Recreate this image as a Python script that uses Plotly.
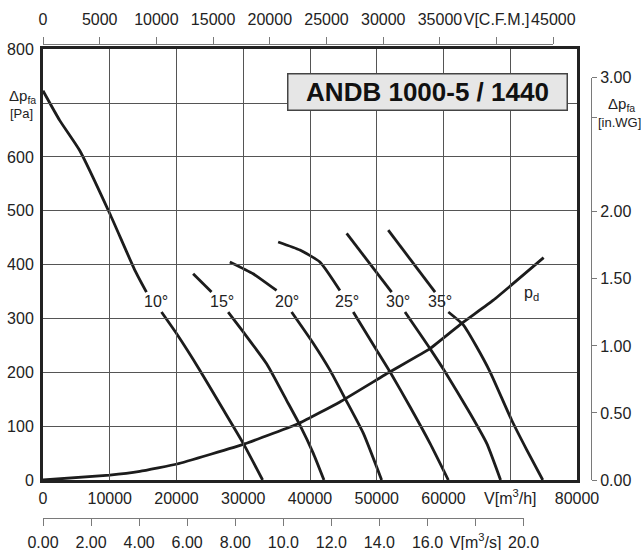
import plotly.graph_objects as go

# ---------------- data ----------------
CFM_TO_M3H = 1.699011      # 1 CFM in m3/h
PA_PER_INWG = 249.089      # 1 in.WG in Pa
M3S_TO_M3H = 3600.0

# flow V [m3/h] / pressure dp_fa [Pa]; None = gap where the blade-angle label sits
v_10 = [0, 2500, 5500, 10000, 13750, 15500, None, 17750, 20000, 23490, 26750, 30000, 32900]
p_10 = [723, 668, 612, 495, 390, 349, None, 312, 272, 204, 136, 68, 0]

v_15 = [22490, 25250, None, 27740, 30000, 33500, 36490, 38490, 40480, 42090]
p_15 = [383, 349, None, 312, 275, 216, 148, 102, 50, 0]

v_20 = [27990, 31480, 34990, None, 37240, 40480, 42990, 45230, 47980, 50730]
p_20 = [405, 383, 352, None, 312, 254, 204, 152, 87, 0]

v_25 = [35230, 38490, 41480, 44480, None, 46480, 49990, 51980, 54980, 57980, 60720]
p_25 = [442, 427, 405, 352, None, 312, 241, 201, 136, 68, 0]

v_30 = [45490, 52230, None, 54230, 57980, 60230, 63970, 66480, 68550]
p_30 = [458, 349, None, 312, 244, 201, 124, 68, 0]

v_35 = [51720, 58740, None, 60720, 62970, 64980, 66970, 70220, 72470, 74870]
p_35 = [464, 349, None, 312, 288, 247, 201, 111, 56, 0]

v_pd = [0, 10000, 14510, 20090, 30240, 38490, 44480, 51980, 57980, 62730, 67470, 75000]
p_pd = [0, 9, 16, 29.7, 67, 106, 145, 201, 244, 291, 334, 413]

curve_names = ["10°", "15°", "20°", "25°", "30°", "35°"]
curves_v = [v_10, v_15, v_20, v_25, v_30, v_35]
curves_p = [p_10, p_15, p_20, p_25, p_30, p_35]

# tick values / labels
x_ticks = [0, 10000, 20000, 30000, 40000, 50000, 60000, 70000, 80000]
x_ticktext = ["0", "10000", "20000", "30000", "40000", "50000", "60000", "V[m<sup>3</sup>/h]", "80000"]
y_ticks = [0, 100, 200, 300, 400, 500, 600, 700, 800]
y_ticktext = ["0", "100", "200", "300", "400", "500", "600", "", "800"]
cfm_ticks = [0, 5000, 10000, 15000, 20000, 25000, 30000, 35000, 40000, 45000]
cfm_ticktext = ["0", "5000", "10000", "15000", "20000", "25000", "30000", "35000", "V[C.F.M.]", "45000"]
m3s_ticks = [0, 2, 4, 6, 8, 10, 12, 14, 16, 18, 20]
m3s_ticktext = ["0.00", "2.00", "4.00", "6.00", "8.00", "10.0", "12.0", "14.0", "16.0", "V[m<sup>3</sup>/s]", "20.0"]
inwg_ticks = [0, 0.5, 1.0, 1.5, 2.0, 2.7, 3.0]
inwg_ticktext = ["0.00", "0.50", "1.00", "1.50", "2.00", "", "3.00"]

# label positions (data coords)
label_x = [17000, 26750, 36490, 45490, 53130, 59480]
label_y = 331
pd_label_pos = (73220, 347)

# ---------------- layout geometry ----------------
W, H = 641, 550
ML, MR, MT, MB = 43, 50, 44, 32
PW = W - ML - MR
PH = H - MT - MB
PLOT_RIGHT_PX = 577
PLOT_TOP_PX, PLOT_BOTTOM_PX = 49.3, 480

def px_x(px):
    return (px - ML) / PW

def px_y(py):
    return (H - MB - py) / PH

XD1 = px_x(PLOT_RIGHT_PX)
YD0, YD1 = px_y(PLOT_BOTTOM_PX), px_y(PLOT_TOP_PX)
X_MAX, Y_MAX = 80000, 800

FONT = "Liberation Sans, Arial, Helvetica, sans-serif"
INK = "#1c1c1c"
GRID = "#555555"
SEC = "#7a7a7a"
TXT = "#222222"

fig = go.Figure()
for v, p in zip(curves_v, curves_p):
    fig.add_trace(go.Scatter(x=v, y=p, mode="lines", connectgaps=False,
                             line=dict(color=INK, width=2.8, shape="spline", smoothing=0.5),
                             hoverinfo="skip", showlegend=False))
fig.add_trace(go.Scatter(x=v_pd, y=p_pd, mode="lines", line=dict(color=INK, width=2.8, shape="spline", smoothing=0.3),
                         hoverinfo="skip", showlegend=False))

# carrier traces for the secondary (unit conversion) axes
fig.add_trace(go.Scatter(x=[None], y=[None], xaxis="x2", yaxis="y", showlegend=False, hoverinfo="skip"))
fig.add_trace(go.Scatter(x=[None], y=[None], xaxis="x3", yaxis="y", showlegend=False, hoverinfo="skip"))
fig.add_trace(go.Scatter(x=[None], y=[None], xaxis="x", yaxis="y2", showlegend=False, hoverinfo="skip"))

sec_common = dict(ticks="outside", ticklen=7, tickcolor=SEC, tickwidth=1, showline=True,
                  linecolor=SEC, linewidth=1, showgrid=False, zeroline=False, fixedrange=True,
                  automargin=False, tickangle=0,
                  tickfont=dict(size=16, color=TXT, family=FONT))

fig.update_layout(
    width=W, height=H,
    margin=dict(l=ML, r=MR, t=MT, b=MB, pad=0, autoexpand=False),
    paper_bgcolor="white", plot_bgcolor="rgba(0,0,0,0)",
    font=dict(family=FONT, size=16, color=TXT),
    showlegend=False,
    xaxis=dict(domain=[0, XD1], range=[0, X_MAX], tickmode="array", tickvals=x_ticks, ticktext=x_ticktext,
               showgrid=True, gridcolor=GRID, gridwidth=1.2, showline=True, mirror=True,
               linecolor="#222", linewidth=3, zeroline=False, ticks="outside", ticklen=2,
               tickcolor="rgba(0,0,0,0)", fixedrange=True, automargin=False, tickangle=0,
               tickfont=dict(size=16, color=TXT)),
    yaxis=dict(domain=[YD0, YD1], range=[0, Y_MAX], tickmode="array", tickvals=y_ticks, ticktext=y_ticktext,
               showgrid=True, gridcolor=GRID, gridwidth=1.2, showline=True, mirror=True,
               linecolor="#222", linewidth=3, zeroline=False, ticks="outside", ticklen=3,
               tickcolor="rgba(0,0,0,0)", fixedrange=True, automargin=False,
               tickfont=dict(size=16, color=TXT)),
    xaxis2=dict(domain=[0, XD1 * 45000 * CFM_TO_M3H / X_MAX], range=[0, 45000], anchor="free", position=1,
                side="top", tickmode="array", tickvals=cfm_ticks, ticktext=cfm_ticktext,
                ticklabelstandoff=6, **sec_common),
    xaxis3=dict(domain=[0, XD1 * 20 * M3S_TO_M3H / X_MAX], range=[0, 20], anchor="free", position=0,
                side="bottom", tickmode="array", tickvals=m3s_ticks, ticktext=m3s_ticktext,
                ticklabelstandoff=3, **sec_common),
    yaxis2=dict(domain=[YD0, YD0 + (YD1 - YD0) * 3 * PA_PER_INWG / Y_MAX], range=[0, 3], anchor="free",
                position=1, side="right", tickmode="array", tickvals=inwg_ticks, ticktext=inwg_ticktext,
                **{**sec_common, "ticklen": 5}),
)

annotations = []
for name, lx in zip(curve_names, label_x):
    annotations.append(dict(x=lx, y=label_y, xref="x", yref="y", text=name, showarrow=False,
                            font=dict(size=16, color=TXT), xanchor="center", yanchor="middle"))
annotations.append(dict(x=pd_label_pos[0], y=pd_label_pos[1], xref="x", yref="y", text="p<sub>d</sub>",
                        showarrow=False, font=dict(size=16, color=TXT), xanchor="center", yanchor="middle"))
annotations.append(dict(x=px_x(427.8), y=px_y(91.7), xref="paper", yref="paper",
                        text="<b>ANDB 1000-5 / 1440</b>", showarrow=False,
                        font=dict(size=26, color="#111"), bgcolor="#e6e6e6", bordercolor="#444",
                        borderwidth=1.5, borderpad=0, width=278, height=35,
                        xanchor="center", yanchor="middle"))
annotations.append(dict(x=px_x(22), y=px_y(96), xref="paper", yref="paper", text="Δp<sub>fa</sub>",
                        showarrow=False, font=dict(size=15, color=TXT), xanchor="center", yanchor="middle"))
annotations.append(dict(x=px_x(21), y=px_y(114), xref="paper", yref="paper", text="[Pa]",
                        showarrow=False, font=dict(size=13, color=TXT), xanchor="center", yanchor="middle"))
annotations.append(dict(x=px_x(621), y=px_y(104), xref="paper", yref="paper", text="Δp<sub>fa</sub>",
                        showarrow=False, font=dict(size=15, color=TXT), xanchor="center", yanchor="middle"))
annotations.append(dict(x=px_x(619), y=px_y(122), xref="paper", yref="paper", text="[in.WG]",
                        showarrow=False, font=dict(size=13, color=TXT), xanchor="center", yanchor="middle"))
fig.update_layout(annotations=annotations)

fig.write_html("out.html", config={"displayModeBar": False},
               post_script="document.body.style.margin='0px';")
